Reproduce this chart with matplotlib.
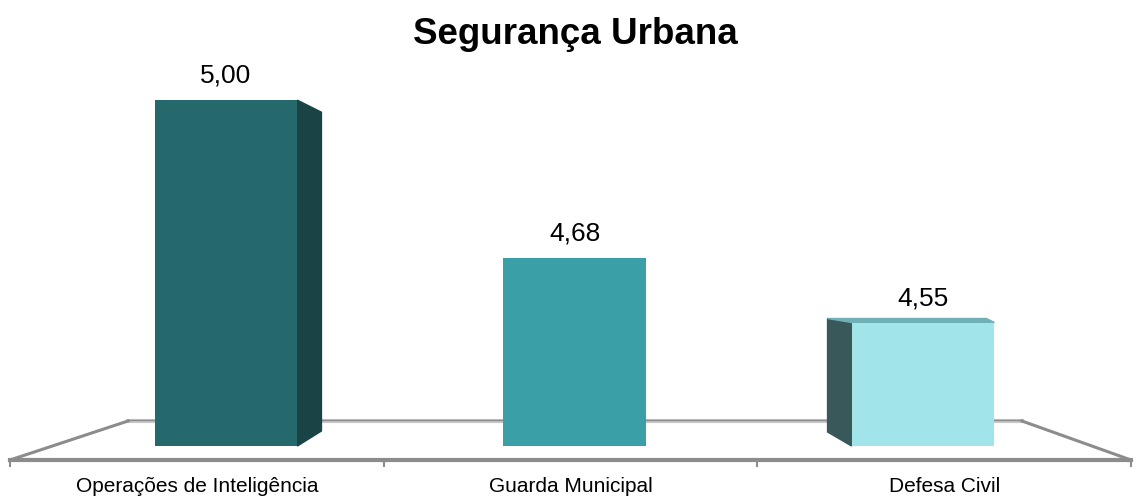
import numpy as np
import matplotlib.pyplot as plt
from matplotlib.patches import Polygon

plt.rcParams['font.family'] = ['Liberation Sans', 'DejaVu Sans']

categorias = ["Operações de Inteligência", "Guarda Municipal", "Defesa Civil"]
valores = [5.00, 4.68, 4.55]
rotulos = ["5,00", "4,68", "4,55"]
titulo = "Segurança Urbana"

cores_frente = ["#26696d", "#3a9fa6", "#a1e5eb"]
cores_lado = ["#1a4346", None, "#38585a"]

W, H = 1136, 497
fig = plt.figure(figsize=(W / 100, H / 100), dpi=100)
ax = fig.add_axes([0, 0, 1, 1])

# escala: 1 categoria = 348.5 px, 1 unidade de valor = 494 px, base 4.30 em y=446 px
px_x = 348.5
px_y = 494.0
base = 4.30
ax.set_xlim(1 - 574.5 / px_x, 1 + (W - 574.5) / px_x)
ax.set_ylim(base - (H - 446) / px_y, base + 446 / px_y)
ax.axis('off')

def fr(px, py):
    # pixel -> fracao dos eixos
    return px / W, 1 - py / H

# chao em perspectiva
t = ax.transAxes
frente = [10, 1131]
fundo = [128, 1022]
yf, yb = 460, 421
ax.plot(*zip(fr(fundo[0], yb), fr(fundo[1], yb)), transform=t, color="#c8c8c8", lw=3, zorder=1)
ax.plot(*zip(fr(fundo[0], yb - 1), fr(fundo[1], yb - 1)), transform=t, color="#8c8c8c", lw=1, zorder=1)
for a, b in [((frente[0], yf), (fundo[0], yb)), ((fundo[1], yb), (frente[1], yf))]:
    ax.plot(*zip(fr(*a), fr(*b)), transform=t, color="#8c8c8c", lw=2.2, zorder=1)
ax.plot(*zip(fr(frente[0], yf), fr(frente[1], yf)), transform=t, color="#8c8c8c", lw=3, zorder=1)
divs = np.linspace(frente[0], frente[1], len(categorias) + 1)
for d in divs:
    ax.plot(*zip(fr(d, yf), fr(d, yf + 6)), transform=t, color="#8c8c8c", lw=1.5, zorder=1)
for i, c in enumerate(categorias):
    cx = (divs[i] + divs[i + 1]) / 2
    ax.text(*fr(cx, 486), c, transform=t, ha='center', va='center', fontsize=15)

# barras
x = np.arange(len(categorias))
larg = 0.41
alturas = [v - base for v in valores]
barras = ax.bar(x, alturas, bottom=base, width=larg, color=cores_frente, zorder=3)

dx = 24 / px_x
for i, (b, v) in enumerate(zip(barras, valores)):
    x0 = b.get_x()
    x1 = x0 + b.get_width()
    if i == 0:
        lado = [(x1, v), (x1 + dx, v - 12 / px_y), (x1 + dx, base + 15 / px_y), (x1, base)]
        ax.add_patch(Polygon(lado, closed=True, color=cores_lado[i], zorder=2))
    elif i == 2:
        lado = [(x0, v), (x0 - dx, v + 4 / px_y), (x0 - dx, base + 14 / px_y), (x0, base)]
        ax.add_patch(Polygon(lado, closed=True, color=cores_lado[i], zorder=2))
        topo = [(x0 - dx, v + 4 / px_y), (x1 - 8 / px_x, v + 4 / px_y), (x1, v), (x0, v)]
        ax.add_patch(Polygon(topo, closed=True, color="#6fb0b5", zorder=2))
    ax.annotate(rotulos[i], (b.get_x() + b.get_width() / 2, v), xytext=(0, 17.5),
                textcoords='offset points', ha='center', va='center', fontsize=19)

ax.text(*fr(575, 34), titulo, transform=t, ha='center', va='center',
        fontsize=26.5, fontweight='bold')

fig.savefig("out.png", dpi=100, facecolor="white")
